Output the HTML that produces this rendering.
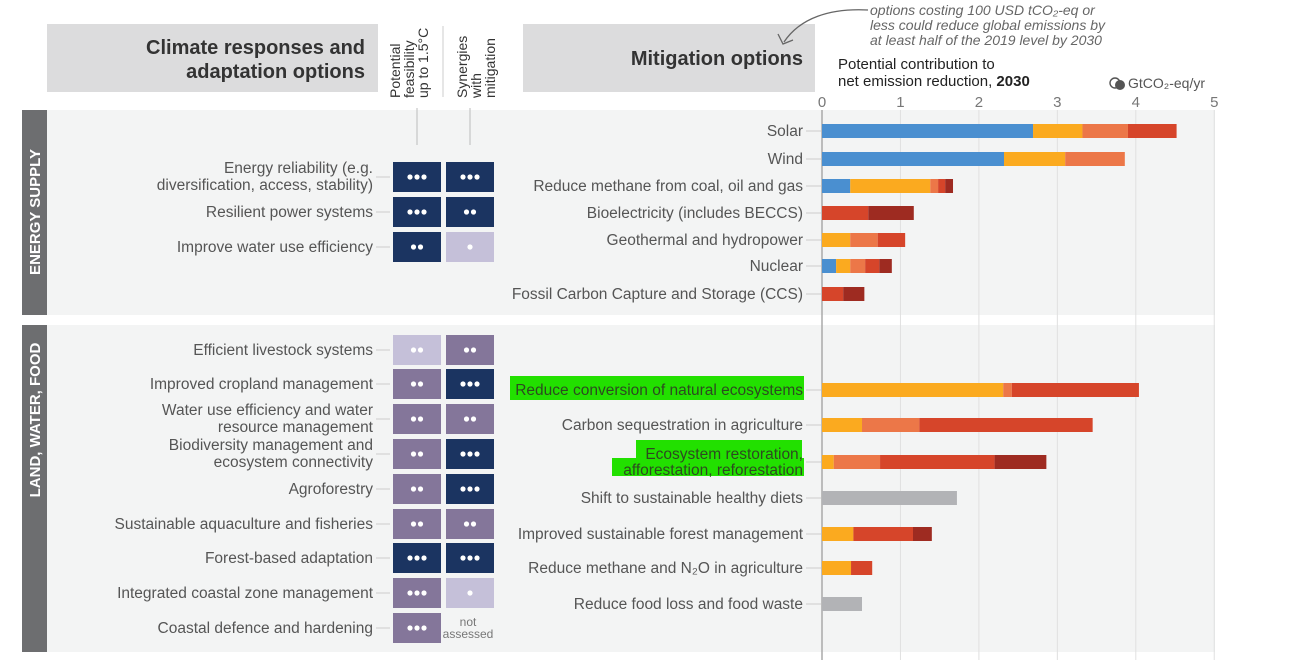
<!DOCTYPE html>
<html><head><meta charset="utf-8"><style>
html,body{margin:0;padding:0;background:#fff;}
svg{display:block;font-family:"Liberation Sans",sans-serif;}
</style></head><body>
<svg id="c" width="1293" height="660" viewBox="0 0 1293 660">
<rect x="47" y="24" width="331" height="68" fill="#dcdcdd"/>
<text x="365" y="54" text-anchor="end" font-size="20" font-weight="bold" fill="#333">Climate responses and</text>
<text x="365" y="78" text-anchor="end" font-size="20" font-weight="bold" fill="#333">adaptation options</text>
<g font-size="14" fill="#333">
<text transform="translate(400,98) rotate(-90)">Potential</text>
<text transform="translate(414,98) rotate(-90)">feasibility</text>
<text transform="translate(428,98) rotate(-90)">up to 1.5°C</text>
<text transform="translate(467,98) rotate(-90)">Synergies</text>
<text transform="translate(481,98) rotate(-90)">with</text>
<text transform="translate(495,98) rotate(-90)">mitigation</text>
</g>
<line x1="443" y1="26" x2="443" y2="97" stroke="#ccc"/>
<rect x="523" y="24" width="292" height="68" fill="#dcdcdd"/>
<text x="803" y="65" text-anchor="end" font-size="20" font-weight="bold" fill="#333">Mitigation options</text>
<path d="M868,10 C830,8 800,18 784,42" fill="none" stroke="#666" stroke-width="1.3"/>
<path d="M778,34 L783,44 L793,40" fill="none" stroke="#666" stroke-width="1.3"/>
<g font-size="14" font-style="italic" fill="#666">
<text x="870" y="15">options costing 100 USD tCO₂-eq or</text>
<text x="870" y="30">less could reduce global emissions by</text>
<text x="870" y="45">at least half of the 2019 level by 2030</text>
</g>
<text x="838" y="69" font-size="15" fill="#222">Potential contribution to</text>
<text x="838" y="86" font-size="15" fill="#222">net emission reduction, <tspan font-weight="bold">2030</tspan></text>
<circle cx="1115" cy="83" r="5" fill="none" stroke="#555" stroke-width="1.4"/><circle cx="1120" cy="85" r="5" fill="#555"/>
<text x="1128" y="88" font-size="14" fill="#555">GtCO₂-eq/yr</text>
<rect x="47" y="110" width="1168" height="205" fill="#f3f4f4"/>
<rect x="47" y="325" width="1168" height="327" fill="#f3f4f4"/>
<rect x="22" y="110" width="25" height="205" fill="#6d6e70"/>
<rect x="22" y="325" width="25" height="327" fill="#6d6e70"/>
<text transform="translate(40,212) rotate(-90)" text-anchor="middle" font-size="15" font-weight="bold" fill="#fff">ENERGY SUPPLY</text>
<text transform="translate(40,420) rotate(-90)" text-anchor="middle" font-size="15" font-weight="bold" fill="#fff">LAND, WATER, FOOD</text>
<line x1="417" y1="108" x2="417" y2="145" stroke="#bbb"/><line x1="470" y1="108" x2="470" y2="145" stroke="#bbb"/>
<rect x="510" y="376" width="294" height="24" fill="#22e000"/>
<rect x="636" y="440" width="166" height="20" fill="#22e000"/>
<rect x="612" y="458" width="192" height="18" fill="#22e000"/>
<g id="grid"></g><g id="bars"></g><g id="adapt"></g>
</svg>
<script>
const ticks=[0,1,2,3,4,5];
const optNames=["Solar","Wind","Reduce methane from coal, oil and gas","Bioelectricity (includes BECCS)","Geothermal and hydropower","Nuclear","Fossil Carbon Capture and Storage (CCS)","Reduce conversion of natural ecosystems","Carbon sequestration in agriculture","Ecosystem restoration,|afforestation, reforestation","Shift to sustainable healthy diets","Improved sustainable forest management","Reduce methane and N₂O in agriculture","Reduce food loss and food waste"];
const rowY=[131,159,186,213,240,266,294,390,425,462,498,534,568,604];
const segBlue=[2.69,2.32,0.36,0,0,0.18,0,0,0,0,0,0,0,0];
const segOrange=[0.63,0.78,1.02,0,0.36,0.18,0,2.31,0.51,0.15,0,0.40,0.37,0];
const segLight=[0.58,0.76,0.10,0,0.35,0.19,0,0.11,0.73,0.59,0,0,0,0];
const segRed=[0.62,0,0.09,0.59,0.35,0.18,0.27,1.62,2.21,1.46,0,0.76,0.27,0];
const segDark=[0,0,0.10,0.58,0,0.16,0.27,0,0,0.66,0,0.24,0,0];
const segGray=[0,0,0,0,0,0,0,0,0,0,1.72,0,0,0.51];
const adaptNames=["Energy reliability (e.g.|diversification, access, stability)","Resilient power systems","Improve water use efficiency","Efficient livestock systems","Improved cropland management","Water use efficiency and water|resource management","Biodiversity management and|ecosystem connectivity","Agroforestry","Sustainable aquaculture and fisheries","Forest-based adaptation","Integrated coastal zone management","Coastal defence and hardening"];
const adaptY=[177,212,247,350,384,419,454,489,524,558,593,628];
const feasibility=[3,3,2,2,2,2,2,2,2,3,3,3];
const feasLevel=["high","high","high","low","med","med","med","med","med","high","med","med"];
const synergy=[3,2,1,2,3,2,3,3,2,3,1,0];
const synLevel=["high","high","low","med","high","med","high","high","med","high","low","na"];
const x=v=>822+v*78.45;
const NS="http://www.w3.org/2000/svg";
function mk(t,a,p){const e=document.createElementNS(NS,t);for(const k in a)e.setAttribute(k,a[k]);p.appendChild(e);return e;}
const grid=document.getElementById('grid'),bars=document.getElementById('bars'),ad=document.getElementById('adapt');
ticks.forEach(t=>{
 const l=mk('line',{x1:x(t),x2:x(t),y1:110,y2:660,stroke:t===0?'#aaa':'#e0e0e0','stroke-width':t===0?1.5:1},grid);
 
 
 const tx=mk('text',{x:x(t),y:107,'text-anchor':'middle','font-size':15,fill:'#777'},grid);
 tx.textContent=t;
 
 
});
const cols=['#4a8fd0','#fbaa1f','#ec7748','#d6452a','#9e2b21','#b2b3b6'];
const series=[segBlue,segOrange,segLight,segRed,segDark,segGray];
optNames.forEach((n,i)=>{
 const y=rowY[i];
 const lines=n.split('|');
 lines.forEach((ln,j)=>{
  const t=mk('text',{x:803,y:y+5-(lines.length-1-j)*16+(lines.length>1?8:0),'text-anchor':'end','font-size':15.5,fill:(i===7||i===9)?'#2d4a20':'#555'},bars);
  t.textContent=ln;
  
  
 });
 mk('line',{x1:806,x2:821,y1:y,y2:y,stroke:'#ccc'},bars);
 let c=0;
 series.forEach((s,k)=>{
  if(s[i]>0){
   const r=mk('rect',{x:x(c),y:y-7,width:x(c+s[i])-x(c),height:14,fill:cols[k]},bars);
   
   
   c+=s[i];
  }
 });
});
const sq={high:'#1b3461',med:'#84769a',low:'#c5c0d9'};
function dots(cx,cy,n,p){for(let d=0;d<n;d++)mk('circle',{cx:cx+(d-(n-1)/2)*7,cy:cy,r:2.6,fill:'#fff'},p);}
adaptNames.forEach((n,i)=>{
 const y=adaptY[i];
 const lines=n.split('|');
 lines.forEach((ln,j)=>{
  const t=mk('text',{x:373,y:y+5-(lines.length-1-j)*17+(lines.length>1?8:0),'text-anchor':'end','font-size':15.5,fill:'#555'},ad);
  t.textContent=ln;
  
  
 });
 mk('line',{x1:376,x2:390,y1:y,y2:y,stroke:'#ccc'},ad);
 const a=mk('rect',{x:393,y:y-15,width:48,height:30,fill:sq[feasLevel[i]]},ad);
 
 
 dots(417,y,feasibility[i],ad);
 if(synLevel[i]==='na'){
  const t1=mk('text',{x:468,y:y-2,'text-anchor':'middle','font-size':12,fill:'#777'},ad);t1.textContent='not';
  const t2=mk('text',{x:468,y:y+10,'text-anchor':'middle','font-size':12,fill:'#777'},ad);t2.textContent='assessed';
 } else {
  const b=mk('rect',{x:446,y:y-15,width:48,height:30,fill:sq[synLevel[i]]},ad);
  
  
  dots(470,y,synergy[i],ad);
 }
});
</script>
</body></html>
